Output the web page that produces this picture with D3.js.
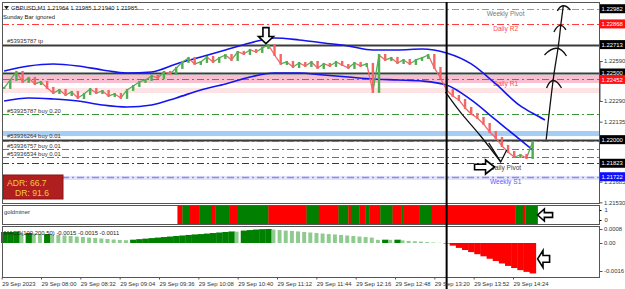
<!DOCTYPE html>
<html>
<head>
<meta charset="utf-8">
<script src="https://cdn.jsdelivr.net/npm/d3@7"></script>
<style>
html, body { margin: 0; padding: 0; background: #fff; }
svg { display: block; font-family: "Liberation Sans", Arial, sans-serif; }
</style>
</head>
<body>
<div id="chart"></div>
<script>
// ---- data ----
const candleStart = "07:30";   // one close every 5 minutes
const closes = [
  1.22388, 1.22448, 1.22508, 1.22433, 1.22463, 1.22418, 1.22433, 1.22388, 1.22350, 1.22373,
  1.22335, 1.22358, 1.22313, 1.22343, 1.22380, 1.22350, 1.22365, 1.22328, 1.22343, 1.22313,
  1.22373, 1.22403, 1.22433, 1.22448, 1.22478, 1.22463, 1.22508, 1.22493, 1.22538, 1.22583,
  1.22613, 1.22568, 1.22583, 1.22620, 1.22583, 1.22613, 1.22635, 1.22598, 1.22658, 1.22643,
  1.22673, 1.22658, 1.22688, 1.22710, 1.22635, 1.22568, 1.22583, 1.22545, 1.22575, 1.22553,
  1.22583, 1.22538, 1.22568, 1.22553, 1.22583, 1.22560, 1.22538, 1.22575, 1.22553, 1.22568,
  1.22358, 1.22635, 1.22598, 1.22613, 1.22575, 1.22598, 1.22568, 1.22598, 1.22613, 1.22635,
  1.22538, 1.22463, 1.22373, 1.22328, 1.22298, 1.22238, 1.22193, 1.22163, 1.22118, 1.22058,
  1.22013, 1.21953, 1.21908, 1.21870, 1.21885, 1.21863, 1.21985
];

const bandTimes = ["07:30","07:50","08:10","08:30","08:50","09:10","09:30","09:50","10:10","10:30",
  "10:50","11:10","11:30","11:50","12:10","12:30","12:50","13:10","13:30","13:50","14:10","14:30","14:40","14:50"];
const upperBand = [1.22515, 1.22553, 1.22568, 1.22553, 1.22523, 1.22500, 1.22508, 1.22568, 1.22620, 1.22673,
  1.22725, 1.22763, 1.22748, 1.22725, 1.22703, 1.22673, 1.22673, 1.22680, 1.22650, 1.22568, 1.22418, 1.22253, 1.22198, 1.22148];
const lowerBand = [1.22290, 1.22313, 1.22305, 1.22290, 1.22260, 1.22245, 1.22260, 1.22313, 1.22373, 1.22418,
  1.22470, 1.22500, 1.22500, 1.22485, 1.22470, 1.22455, 1.22448, 1.22440, 1.22410, 1.22298, 1.22148, 1.21998, 1.21923, null];

const macdHist = [
  0.00063, 0.00063, 0.00064, 0.00057, 0.00057, 0.00054, 0.00051, 0.00051, 0.00049, 0.00046,
  0.00043, 0.00040, 0.00037, 0.00034, 0.00031, 0.00029, 0.00026, 0.00023, 0.00020, 0.00017,
  0.00016, 0.00019, 0.00022, 0.00025, 0.00028, 0.00031, 0.00034, 0.00037, 0.00040, 0.00043,
  0.00046, 0.00049, 0.00051, 0.00054, 0.00057, 0.00060, 0.00063, 0.00066, 0.00065, 0.00071,
  0.00074, 0.00077, 0.00079, 0.00080, 0.00077, 0.00074, 0.00071, 0.00069, 0.00066, 0.00063,
  0.00060, 0.00057, 0.00054, 0.00051, 0.00049, 0.00046, 0.00043, 0.00040, 0.00037, 0.00034,
  0.00031, 0.00018, 0.00019, 0.00018, 0.00019, 0.00015, 0.00012, 0.00010, 0.00008, 0.00005,
  0.00003, 0.00001, -0.00003, -0.00015, -0.00028, -0.00040, -0.00052, -0.00064, -0.00076, -0.00090,
  -0.00103, -0.00117, -0.00131, -0.00143, -0.00155, -0.00165, -0.00174
];

// goldminer signal blocks: start times (last entry is the end) and state (1 green, 0 red)
const goldTimes = ["09:51","09:55","10:01","10:09","10:19","10:22","10:33","10:40","11:05","11:36",
  "11:46","12:02","12:10","12:12","12:19","12:24","12:27","12:36","12:46","12:53",
  "12:55","13:08","13:18","14:26","14:32","14:34","14:44"];
const goldStates = [0,1,0,1,0,1,0,1,0,1, 0,1,0,1,0,1,0,1,0,1, 0,1,0,1,0,1];

// horizontal levels
const levelPrices = [1.22982, 1.22868, 1.22713, 1.22500, 1.22452, 1.22192, 1.22000, 1.21988, 1.21928, 1.21868, 1.21823, 1.21722];
const levelKinds  = ["weekly","daily","solid","solid","daily","order","solid","order","order","order","pivot","weeklyS"];
const levelNames  = ["Weekly Pivot","Daily R2","","","Daily R1","","","","","","Daily Pivot","Weekly S1"];

// shaded zones
const zoneLow  = [1.22027, 1.22425, 1.22350, 1.21698];
const zoneHigh = [1.22065, 1.22485, 1.22388, 1.21728];
const zoneKinds = ["blue","pink","rose","lavender"];

// order labels
const orderPrices = [1.22713, 1.22192, 1.22000, 1.21928, 1.21868];
const orderNames = ["#53935787 tp","#53935787 buy 0.20","#53936264 buy 0.01","#53936757 buy 0.01","#53936534 buy 0.01"];

// axes
const priceTicks = [1.22590, 1.22290, 1.22135, 1.21685, 1.21530];
const boxPrices = [1.22982, 1.22868, 1.22713, 1.22500, 1.22452, 1.22000, 1.21823, 1.21722];
const boxKinds  = ["black","red","black","black","red","black","black","blue"];
const timeTicks = ["07:28","08:00","08:32","09:04","09:36","10:08","10:40","11:12","11:44","12:16","12:48","13:20","13:52","14:24"];
const timeLabels = ["29 Sep 2023","29 Sep 08:00","29 Sep 08:32","29 Sep 09:04","29 Sep 09:36","29 Sep 10:08","29 Sep 10:40",
  "29 Sep 11:12","29 Sep 11:44","29 Sep 12:16","29 Sep 12:48","29 Sep 13:20","29 Sep 13:52","29 Sep 14:24"];
const macdTicks = [0.0008, 0, -0.0016];
const macdTickLabels = ["0.0008","0.00","-0.0016"];
const goldTicks = [1, 0];

const header = "GBPUSD,M1  1.21964 1.21985 1.21940 1.21985";
const adr = ["ADR: 66.7", "DR: 91.6"];
const sessionLine = "13:30";

// hand drawn annotations (time, price)
const trendArrow = [["13:29",1.22358],["13:41",1.22208],["13:57",1.22035],["14:14",1.21833]];
const upArrow = [["14:51",1.22000],["14:57",1.22470],["15:01",1.22710],["15:03",1.22868],["15:05",1.23010]];

// ---- layout ----
const width = 625, height = 289;
const L = 2, R = 599;
const mainTop = 2, mainBottom = 203;
const goldTop = 205, goldBottom = 224;
const macdTop = 226, macdBottom = 277;
const fontSmall = 5.9;

const tm = s => { const [h, m] = s.split(":").map(Number); return h * 60 + m; };

const x = d3.scaleLinear().domain([tm("08:00"), tm("14:24")]).range([41, 513]);
const y = d3.scaleLinear().domain([1.22290, 1.22590]).range([101, 61]);
const yMacd = d3.scaleLinear().domain([0.0008, -0.0016]).range([229, 271]);
const yGold = d3.scaleLinear().domain([1, 0]).range([210, 220]);
const step = x(tm("08:05")) - x(tm("08:00"));

const svg = d3.select("#chart").append("svg")
  .attr("width", width).attr("height", height)
  .attr("viewBox", `0 0 ${width} ${height}`);

svg.append("rect").attr("width", width).attr("height", height).attr("fill", "#fff");

const defs = svg.append("defs");
defs.append("clipPath").attr("id", "clipMain").append("rect")
  .attr("x", L).attr("y", mainTop).attr("width", R - L).attr("height", mainBottom - mainTop);

const main = svg.append("g").attr("clip-path", "url(#clipMain)");

// zones
const zoneFill = { blue: "#a6cdf3", pink: "#f8bfd0", rose: "#fde3e3", lavender: "#e3e3f8" };
main.selectAll(".zone").data(zoneLow).enter().append("rect")
  .attr("x", L).attr("width", R - L)
  .attr("y", (d, i) => y(zoneHigh[i]))
  .attr("height", (d, i) => y(d) - y(zoneHigh[i]))
  .attr("fill", (d, i) => zoneFill[zoneKinds[i]]);

// levels
const levelStyle = {
  weekly:  { stroke: "#9a9a9a", w: 1, dash: "7,3,2,3" },
  daily:   { stroke: "#ff3b3b", w: 1, dash: "7,3,2,3" },
  solid:   { stroke: "#3c3c3c", w: 2, dash: null },
  order:   { stroke: "#3a9a3a", w: 1, dash: "7,3,2,3" },
  pivot:   { stroke: "#3a3a3a", w: 1, dash: "7,3,2,3" },
  weeklyS: { stroke: "#8c8cef", w: 1.5, dash: "7,3,2,3" }
};
main.selectAll(".level").data(levelPrices).enter().append("line")
  .attr("x1", L).attr("x2", R)
  .attr("y1", d => Math.round(y(d)) + 0.5).attr("y2", d => Math.round(y(d)) + 0.5)
  .attr("stroke", (d, i) => levelStyle[levelKinds[i]].stroke)
  .attr("stroke-width", (d, i) => levelStyle[levelKinds[i]].w)
  .attr("stroke-dasharray", (d, i) => levelStyle[levelKinds[i]].dash);

const nameColor = { weekly: "#7a7a7a", daily: "#ff4a4a", pivot: "#444", weeklyS: "#5a5aff" };
const named = levelPrices.map((p, i) => ({ p, kind: levelKinds[i], name: levelNames[i] })).filter(d => d.name !== "");
main.selectAll(".lvlname").data(named).enter().append("text")
  .attr("x", x(tm("14:18")))
  .attr("y", d => y(d.p) + 7)
  .attr("text-anchor", "middle")
  .attr("font-size", 6.6)
  .attr("fill", d => nameColor[d.kind])
  .text(d => d.name);

// order labels
main.selectAll(".order").data(orderPrices).enter().append("text")
  .attr("x", 7).attr("y", d => y(d) - 1.5)
  .attr("font-size", fontSmall).attr("fill", "#333")
  .text((d, i) => orderNames[i]);

// bands
const bandLine = arr => d3.line()
  .defined(d => d[1] !== null)
  .x(d => x(tm(d[0])))
  .y(d => y(d[1]))
  .curve(d3.curveMonotoneX)(bandTimes.map((t, i) => [t, arr[i]]));
main.append("path").attr("d", bandLine(upperBand)).attr("fill", "none").attr("stroke", "#1414f0").attr("stroke-width", 1.6);
main.append("path").attr("d", bandLine(lowerBand)).attr("fill", "none").attr("stroke", "#1414f0").attr("stroke-width", 1.6);

// price bars: open = previous close, drawn as coloured strokes plus a thin body
const candles = closes.map((c, i) => ({ t: tm(candleStart) + 5 * i, o: i === 0 ? c : closes[i - 1], c }));
const upCol = "#52ad52", dnCol = "#f26666";
main.selectAll(".seg").data(candles.slice(1)).enter().append("line")
  .attr("x1", d => x(d.t - 5)).attr("x2", d => x(d.t))
  .attr("y1", d => y(d.o)).attr("y2", d => y(d.c))
  .attr("stroke", d => d.c >= d.o ? upCol : dnCol)
  .attr("stroke-width", 1.3);
main.selectAll(".candle").data(candles).enter().append("rect")
  .attr("x", d => x(d.t) - 1.2)
  .attr("width", 2.4)
  .attr("y", d => y(Math.max(d.o, d.c)) - 1)
  .attr("height", d => Math.abs(y(d.o) - y(d.c)) + 2)
  .attr("fill", d => d.c >= d.o ? upCol : dnCol);

// ADR box
main.append("rect").attr("x", 3).attr("y", 175).attr("width", 60).attr("height", 24)
  .attr("fill", "#b01f1f").attr("stroke", "#8a1515");
main.append("text").attr("x", 7).attr("y", 186).attr("font-size", 8.6).attr("fill", "#f5c842").text(adr[0]);
main.append("text").attr("x", 15).attr("y", 196).attr("font-size", 8.6).attr("fill", "#f5c842").text(adr[1]);

// header
main.append("path").attr("d", "M4,6 L9,6 L6.5,9.5 Z").attr("fill", "#222");
main.append("text").attr("x", 11).attr("y", 10).attr("font-size", fontSmall).attr("fill", "#222").text(header);
main.append("text").attr("x", 3).attr("y", 19).attr("font-size", fontSmall).attr("fill", "#222").text("Sunday Bar ignored");

// hand drawn arrows
const hand = d3.line().x(d => x(tm(d[0]))).y(d => y(d[1])).curve(d3.curveCatmullRom);
main.append("path").attr("d", hand(trendArrow)).attr("fill", "none").attr("stroke", "#111").attr("stroke-width", 1.3);
const tip = trendArrow[trendArrow.length - 1];
const tx = x(tm(tip[0])), ty = y(tip[1]);
main.append("path").attr("d", `M${tx - 12},${ty - 19} L${tx},${ty} L${tx + 6},${ty - 12}`)
  .attr("fill", "none").attr("stroke", "#111").attr("stroke-width", 1.3);

svg.append("path").attr("d", hand(upArrow)).attr("fill", "none").attr("stroke", "#111").attr("stroke-width", 1.3);
const chevrons = [[-7, 11, 8, 11], [-14, 10, 8, 11], [-7, 8, 5, 6], [-6, 6, 7, 5]];
upArrow.slice(1).forEach((p, i) => {
  const ax = x(tm(p[0])), ay = y(p[1]), c = chevrons[i];
  svg.append("path")
    .attr("d", `M${ax + c[0]},${ay + c[1]} Q${ax - 1},${ay - 4} ${ax + c[2]},${ay + c[3]}`)
    .attr("fill", "none").attr("stroke", "#111").attr("stroke-width", 1.3);
});

// hollow block arrows
function blockArrow(px, py, angle, len, hgt) {
  const pts = [[0, 0], [-len * 0.45, -hgt / 2], [-len * 0.45, -hgt * 0.2], [-len, -hgt * 0.2],
    [-len, hgt * 0.2], [-len * 0.45, hgt * 0.2], [-len * 0.45, hgt / 2]];
  svg.append("path")
    .attr("d", "M" + pts.map(p => p.join(",")).join("L") + "Z")
    .attr("transform", `translate(${px},${py}) rotate(${angle})`)
    .attr("fill", "#fff").attr("stroke", "#000").attr("stroke-width", 1.6)
    .attr("stroke-linejoin", "miter");
}
blockArrow(x(tm("11:03")), y(1.22720), 90, 16, 15);
blockArrow(x(tm("14:09")), y(1.21795), 0, 20, 14);

// ---- goldminer panel ----
const gold = svg.append("g");
gold.selectAll(".blk").data(goldStates).enter().append("rect")
  .attr("x", (d, i) => x(tm(goldTimes[i])))
  .attr("width", (d, i) => x(tm(goldTimes[i + 1])) - x(tm(goldTimes[i])) + 0.3)
  .attr("y", goldTop).attr("height", goldBottom - goldTop)
  .attr("fill", d => d === 1 ? "#007f00" : "#ff0000");
gold.append("text").attr("x", 4).attr("y", 214).attr("font-size", fontSmall).attr("fill", "#333").text("goldminer");
blockArrow(x(tm("14:44")), yGold(0.5), 180, 15, 12);

// ---- MACD panel ----
const macd = svg.append("g");
const bars = macdHist.map((v, i) => ({ t: tm(candleStart) + 5 * i, v, up: i === 0 || v >= macdHist[i - 1] }));
macd.selectAll(".hist").data(bars).enter().append("rect")
  .attr("x", d => x(d.t) - step / 2)
  .attr("width", d => d.v < 0 ? step + 0.4 : (d.up ? step + 0.3 : step - 2.2))
  .attr("y", d => Math.min(yMacd(d.v), yMacd(0)))
  .attr("height", d => Math.abs(yMacd(d.v) - yMacd(0)))
  .attr("fill", d => d.v < 0 ? "#ff0000" : (d.up ? "#008000" : "#8fcb8f"));
macd.append("text").attr("x", 4).attr("y", 235).attr("font-size", fontSmall).attr("fill", "#222")
  .text("MACD(100,200,50) -0.0015 -0.0015 -0.0011");
blockArrow(x(tm("14:44")), yMacd(-0.00091), 180, 12, 17);

// panel borders
[[mainTop, mainBottom], [goldTop, goldBottom], [macdTop, macdBottom]].forEach(p => {
  svg.append("rect").attr("x", L + 0.5).attr("y", p[0] + 0.5)
    .attr("width", R - L).attr("height", p[1] - p[0])
    .attr("fill", "none").attr("stroke", "#555").attr("stroke-width", 1);
});

// session line
svg.append("line")
  .attr("x1", x(tm(sessionLine))).attr("x2", x(tm(sessionLine)))
  .attr("y1", mainTop).attr("y2", height)
  .attr("stroke", "#000").attr("stroke-width", 2);

// ---- axes ----
const axisFont = "Liberation Sans, Arial";
const priceAxis = svg.append("g").attr("transform", `translate(${R + 0.5},0)`)
  .call(d3.axisRight(y).tickValues(priceTicks).tickFormat(d3.format(".5f")).tickSize(3).tickPadding(1.5));
priceAxis.select(".domain").attr("stroke", "#555");
priceAxis.selectAll("text").attr("font-size", fontSmall).attr("font-family", axisFont).attr("fill", "#333");
priceAxis.selectAll("line").attr("stroke", "#555");

const boxFill = { black: "#000", red: "#ff1010", blue: "#1010ff" };
const boxes = svg.append("g");
boxes.selectAll("rect").data(boxPrices).enter().append("rect")
  .attr("x", R + 1).attr("width", width - R - 1)
  .attr("y", d => y(d) - 4.5).attr("height", 9)
  .attr("fill", (d, i) => boxFill[boxKinds[i]]);
boxes.selectAll("text").data(boxPrices).enter().append("text")
  .attr("x", R + 2.5).attr("y", d => y(d) + 2.2)
  .attr("font-size", fontSmall).attr("fill", "#fff")
  .text(d => d3.format(".5f")(d));

const goldAxis = svg.append("g").attr("transform", `translate(${R + 0.5},0)`)
  .call(d3.axisRight(yGold).tickValues(goldTicks).tickFormat(d3.format("d")).tickSize(2).tickPadding(3));
goldAxis.select(".domain").remove();
goldAxis.selectAll("text").attr("font-size", fontSmall).attr("font-family", axisFont).attr("fill", "#333");

const macdAxis = svg.append("g").attr("transform", `translate(${R + 0.5},0)`)
  .call(d3.axisRight(yMacd).tickValues(macdTicks).tickFormat((d, i) => macdTickLabels[i]).tickSize(3).tickPadding(1.5));
macdAxis.select(".domain").remove();
macdAxis.selectAll("text").attr("font-size", fontSmall).attr("font-family", axisFont).attr("fill", "#333");
macdAxis.selectAll("line").attr("stroke", "#555");

const timeAxis = svg.append("g").attr("transform", `translate(0,${macdBottom + 0.5})`)
  .call(d3.axisBottom(x).tickValues(timeTicks.map(tm)).tickFormat((d, i) => timeLabels[i]).tickSize(2).tickPadding(2));
timeAxis.select(".domain").remove();
timeAxis.selectAll("line").attr("stroke", "#555");
timeAxis.selectAll("text").attr("text-anchor", "start").attr("dx", 0)
  .attr("font-size", fontSmall).attr("font-family", axisFont).attr("fill", "#333");
</script>
</body>
</html>
